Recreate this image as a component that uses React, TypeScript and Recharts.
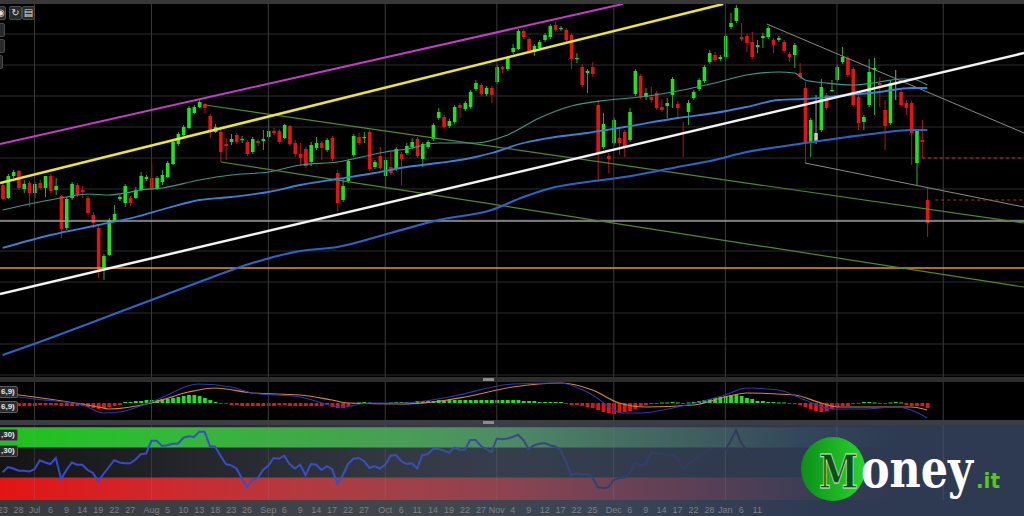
import React from 'react'
import {
  ComposedChart, LineChart, Bar, Line, XAxis, YAxis, CartesianGrid, ReferenceLine, ReferenceArea,
} from 'recharts'

const X_DOMAIN: [number, number] = [-0.5, 192.2]

// candles (chart units, higher = up)
const opens = [
  195, 182, 204, 209, 191, 197, 187, 197, 192, 204,
  190, 184, 152, 182, 195, 190, 182, 165, 152, 112,
  125, 159, 181, 177, 182, 182, 190, 201, 202, 191,
  198, 203, 216, 236, 245, 252, 267, 273, 276, 264,
  248, 248, 236, 238, 245, 240, 238, 228, 239, 239,
  243, 249, 249, 242, 254, 237, 226, 231, 218, 232,
  237, 230, 242, 207, 180, 199, 225, 243, 242, 248,
  213, 224, 204, 213, 211, 226, 227, 233, 241, 221,
  233, 241, 262, 263, 254, 258, 275, 271, 273, 291,
  295, 286, 292, 298, 313, 311, 328, 331, 349, 341,
  328, 332, 340, 343, 355, 351, 350, 345, 321, 313,
  307, 313, 275, 233, 224, 237, 242, 248, 240, 286,
  304, 283, 283, 287, 273, 274, 285, 276, 248, 268,
  282, 291, 299, 318, 325, 321, 323, 353, 359, 343,
  344, 338, 333, 342, 343, 340, 340, 338, 326, 325,
  307, 292, 238, 238, 250, 285, 289, 300, 318, 322,
  311, 283, 258, 275, 310, 297, 270, 257, 297, 288,
  277, 277, 217, 240, 180,
]
const highs = [
  197, 206, 210, 210, 200, 199, 198, 200, 204, 206,
  202, 185, 183, 198, 197, 194, 184, 168, 154, 126,
  162, 175, 185, 196, 184, 193, 208, 205, 217, 204,
  210, 219, 240, 248, 255, 274, 275, 281, 277, 266,
  256, 250, 242, 246, 247, 244, 240, 243, 241, 250,
  262, 252, 251, 256, 255, 240, 237, 233, 238, 243,
  239, 242, 244, 210, 202, 221, 246, 247, 248, 250,
  220, 233, 222, 228, 233, 228, 237, 242, 243, 238,
  240, 257, 272, 265, 261, 275, 277, 279, 290, 300,
  297, 294, 294, 315, 314, 324, 336, 351, 351, 343,
  336, 340, 347, 356, 358, 354, 352, 347, 327, 316,
  311, 318, 280, 267, 227, 262, 252, 250, 272, 311,
  306, 292, 293, 289, 281, 282, 303, 279, 258, 280,
  290, 302, 315, 330, 328, 325, 346, 367, 375, 357,
  346, 348, 340, 347, 354, 342, 344, 340, 328, 337,
  317, 298, 262, 285, 301, 287, 300, 315, 333, 324,
  313, 285, 265, 321, 322, 303, 280, 300, 310, 290,
  280, 279, 251, 260, 193,
]
const lows = [
  180, 181, 202, 190, 187, 173, 182, 190, 183, 187,
  185, 142, 150, 180, 183, 182, 165, 152, 102, 100,
  124, 158, 179, 173, 174, 181, 189, 199, 190, 190,
  195, 202, 215, 234, 244, 251, 266, 272, 267, 242,
  247, 218, 220, 235, 236, 237, 224, 226, 234, 230,
  241, 245, 236, 241, 234, 223, 214, 212, 214, 230,
  220, 228, 219, 168, 178, 197, 223, 235, 237, 209,
  211, 210, 193, 205, 209, 195, 225, 231, 222, 213,
  231, 239, 260, 251, 252, 256, 262, 269, 271, 289,
  284, 284, 277, 296, 307, 309, 326, 330, 341, 327,
  324, 330, 338, 341, 348, 349, 337, 311, 317, 293,
  287, 303, 198, 231, 207, 235, 225, 223, 238, 284,
  281, 280, 277, 270, 268, 262, 272, 262, 223, 255,
  280, 289, 297, 316, 318, 319, 321, 351, 357, 339,
  328, 321, 327, 332, 341, 327, 338, 327, 318, 312,
  301, 217, 223, 236, 248, 270, 288, 298, 316, 303,
  273, 250, 250, 273, 265, 273, 230, 255, 280, 273,
  265, 215, 195, 222, 143,
]
const closes = [
  181, 204, 208, 192, 196, 187, 196, 192, 204, 189,
  194, 151, 181, 196, 185, 188, 167, 157, 108, 124,
  160, 166, 183, 194, 177, 190, 204, 203, 191, 202,
  205, 217, 238, 246, 253, 272, 273, 278, 272, 250,
  253, 228, 234, 241, 238, 241, 226, 241, 237, 241,
  249, 247, 238, 255, 236, 226, 222, 214, 235, 237,
  232, 240, 221, 177, 194, 219, 244, 237, 243, 211,
  218, 212, 220, 207, 231, 221, 234, 238, 224, 236,
  238, 255, 268, 253, 259, 273, 272, 277, 288, 297,
  286, 292, 285, 313, 311, 322, 332, 349, 343, 329,
  334, 338, 345, 354, 350, 352, 340, 321, 322, 295,
  309, 306, 227, 256, 221, 260, 237, 233, 268, 309,
  283, 287, 280, 272, 270, 277, 301, 272, 247, 277,
  288, 300, 313, 327, 320, 323, 344, 357, 372, 341,
  337, 323, 335, 344, 352, 335, 342, 329, 323, 335,
  303, 237, 260, 247, 293, 272, 290, 313, 323, 305,
  275, 257, 263, 308, 312, 295, 254, 297, 296, 275,
  272, 247, 249, 238, 157,
]
const neutralIdx = [153, 168]

// moving averages as [candle index, value]
const ma20 = [
  [0, 170], [6, 177], [12, 183], [16, 186], [20, 185], [23, 187], [26, 190], [30, 192], [37, 200],
  [43, 205], [50, 208], [56, 215], [63, 218], [72, 228], [76, 231], [82, 237], [89, 237], [95, 245],
  [101, 262], [107, 274], [114, 280], [120, 283], [127, 289], [134, 297], [140, 305], [146, 308],
  [149, 307], [151, 300], [155, 297], [160, 295], [165, 298], [169, 301], [171, 301], [174, 295],
]
const ma50 = [
  [0, 132], [9, 145], [18, 155], [25, 163], [31, 172], [37, 180], [43, 183], [50, 188], [56, 195],
  [63, 201], [70, 207], [76, 213], [82, 217], [89, 223], [92, 227], [98, 237], [104, 243], [110, 247],
  [117, 253], [127, 262], [134, 267], [140, 273], [146, 280], [151, 281], [159, 285], [165, 288],
  [171, 292], [174, 292],
]
const ma200 = [
  [0, 25], [9, 42], [18, 60], [28, 80], [37, 98], [47, 117], [56, 129], [63, 133], [73, 147],
  [82, 160], [92, 170], [98, 183], [104, 193], [110, 198], [117, 203], [127, 213], [134, 220],
  [140, 228], [146, 233], [151, 237], [159, 243], [165, 247], [171, 250], [174, 250],
]

// hand-drawn lines, [index, value] end points
const magentaLine = [[-0.5, 236], [116.7, 376]]
const yellowLine = [[-0.5, 197], [135.6, 376]]
const whiteLine = [[-0.5, 86], [192.2, 327]]
const greenUpper = [[38.1, 275], [192.2, 157]]
const greenLower = [[41.1, 218], [192.2, 93]]
const grayUpper = [[143.8, 356], [192.2, 247]]
const grayLower = [[151, 217], [192.2, 173]]
const stopHigh = [[173, 222], [192.2, 222]]
const stopLow = [[175.5, 180], [192.2, 180]]
const supportGray = 159
const supportOrange = 112

const monthIdx = [6, 28, 50, 72, 93, 115, 136, 157, 177]
const priceGrid = [377, 361, 346, 330, 315, 299, 284, 268, 253, 237, 222, 206, 191, 175, 160, 144, 129, 113, 98, 82, 67, 51, 36, 20, 5]

// MACD panel
const macdHist = [
  -3, -3, -3, -3, -3, -3, -3, -2, -2, -2,
  -2, -3, -3, -3, -3, -3, -4, -5, -6, -5,
  -4, -3, -2, 1, 1, 2, 2, 3, 3, 3,
  4, 4, 5, 6, 7, 8, 8, 7, 5, 3,
  1, -1, -1, -2, -2, -3, -3, -3, -3, -3,
  -3, -3, -2, -2, -3, -3, -3, -3, -3, -3,
  -3, -2, -4, -5, -5, -3, -1, 0, 1, 0,
  -1, -1, -1, 0, 1, 1, 1, 1, 2, 2,
  2, 2, 3, 3, 3, 3, 3, 3, 3, 3,
  3, 3, 3, 3, 3, 3, 3, 3, 2, 2,
  2, 1, 1, 1, 1, 1, -1, -2, -2, -3,
  -4, -5, -7, -9, -10, -11, -10, -9, -8, -6,
  -3, -2, -1, -1, 0, 0, 1, 0, -1, 0,
  1, 2, 3, 4, 5, 6, 7, 8, 8, 7,
  5, 4, 2, 2, 1, 1, 0, 0, -1, -1,
  -2, -4, -6, -8, -9, -8, -6, -4, -3, -3,
  -1, -1, 1, 1, 0, -1, -1, 0, 1, 0,
  -2, -3, -3, -3, -5,
]
const macdPts = [
  [0, 8], [6, 4], [15, -2], [19, -10], [22, -9], [28, 1], [37, 19], [43, 16], [47, 10], [56, 6],
  [64, -4], [69, 0], [75, 0], [84, 6], [96, 19], [105, 20], [110, 11], [117, -10], [120, -10],
  [127, -4], [136, 8], [140, 15], [146, 13], [151, 3], [156, -6], [162, -6], [168, -4], [171, -7], [174, -15],
]
const signalPts = [
  [0, 10], [6, 6], [18, -4], [20, -6], [28, 0], [35, 11], [40, 15], [47, 10], [56, 8], [62, 3],
  [65, 0], [75, -1], [81, 1], [87, 6], [96, 16], [105, 20], [111, 13], [116, 0], [121, -4],
  [130, -2], [136, 6], [140, 10], [149, 8], [154, 0], [157, -4], [165, -4], [171, -4], [174, -7],
]

// RSI panel
const rsi = [
  37, 44, 42, 39, 39, 38, 41, 53, 50, 48,
  56, 28, 40, 50, 47, 47, 40, 36, 25, 35,
  44, 53, 50, 49, 49, 54, 61, 62, 79, 79,
  72, 73, 75, 75, 83, 85, 84, 91, 91, 72,
  71, 59, 48, 46, 42, 29, 17, 27, 29, 40,
  46, 56, 55, 59, 48, 42, 47, 33, 48, 47,
  40, 45, 41, 22, 33, 48, 55, 56, 52, 43,
  45, 42, 47, 59, 60, 52, 48, 49, 42, 60,
  61, 68, 68, 66, 63, 70, 67, 67, 80, 80,
  72, 68, 64, 82, 81, 82, 84, 87, 80, 68,
  73, 75, 76, 73, 71, 67, 51, 33, 36, 34,
  35, 30, 17, 16, 17, 27, 29, 30, 36, 50,
  47, 47, 64, 62, 62, 60, 61, 56, 41, 48,
  53, 59, 62, 67, 67, 68, 67, 79, 93, 76,
  67, 59, 59, 59, 58, 54,
]

const dateIdx = [0, 3, 6, 9, 12, 15, 18, 21, 24, 28, 31, 34, 37, 40, 43, 46, 50, 53, 56, 59, 62, 65, 68, 72, 75, 78, 81, 84, 87, 90, 93, 96, 99, 102, 105, 108, 111, 115, 118, 121, 124, 127, 130, 133, 136, 139, 142]
const dateText = ['23', '28', 'Jul', '6', '9', '14', '19', '22', '27', 'Aug', '5', '10', '13', '18', '23', '26', 'Sep', '6', '9', '14', '17', '22', '27', 'Oct', '6', '11', '14', '19', '22', '27', 'Nov', '4', '9', '12', '17', '22', '25', 'Dec', '6', '9', '14', '17', '22', '28', 'Jan', '6', '11']

const toMap = (pts: number[][]) => new Map(pts.map(([i, v]) => [i, v] as [number, number]))
const m20 = toMap(ma20)
const m50 = toMap(ma50)
const m200 = toMap(ma200)
const mMacd = toMap(macdPts)
const mSig = toMap(signalPts)

const priceRows = opens.map((open, i) => ({
  i,
  open,
  high: highs[i],
  low: lows[i],
  close: closes[i],
  range: [lows[i], highs[i]],
  neutral: neutralIdx.includes(i),
  ma20: m20.get(i) ?? null,
  ma50: m50.get(i) ?? null,
  ma200: m200.get(i) ?? null,
}))

const macdRows = macdHist.map((hist, i) => ({
  i, hist, macd: mMacd.get(i) ?? null, signal: mSig.get(i) ?? null,
}))

const rsiRows = rsi.map((v, i) => ({ i, rsi: v }))

const seg = (pts: number[][]) => pts.map(([x, y]) => ({ x, y }))

const Candle = (props: any) => {
  const { x, y, width, height, payload } = props
  if (x == null || y == null) return null
  const { open, close, high, low, neutral } = payload
  const top = Math.min(y, y + height)
  const h = Math.abs(height)
  const ppu = high > low ? h / (high - low) : 0
  const cx = x + width / 2
  const yO = top + (high - open) * ppu
  const yC = top + (high - close) * ppu
  const body = neutral ? '#c9c9c9' : close >= open ? '#1fe21f' : '#e51414'
  const wick = neutral ? '#9a9a9a' : close >= open ? '#2faa2f' : '#b81515'
  const bTop = Math.min(yO, yC)
  const bH = Math.max(1.2, Math.abs(yC - yO))
  return (
    <g>
      <line x1={cx} x2={cx} y1={top} y2={top + h} stroke={wick} strokeWidth={1} />
      <rect x={cx - 1.8} y={bTop} width={3.6} height={bH} fill={body} />
    </g>
  )
}

const HistBar = (props: any) => {
  const { x, y, width, height, payload } = props
  if (x == null || y == null) return null
  const top = Math.min(y, y + height)
  const h = Math.max(1, Math.abs(height))
  const fill = payload.hist >= 0 ? '#22e022' : '#e51414'
  return <rect x={x + width / 2 - 1.9} y={payload.hist === 0 ? top - 0.5 : top} width={3.8} height={h} fill={fill} />
}

const Tag = ({ top, text }: { top: number; text: string }) => (
  <div style={{
    position: 'absolute', left: -2, top, height: 10, padding: '0 2px', background: '#2b2b2b',
    border: '1px solid #5a5a5a', borderRadius: 2, color: '#e8e8e8', fontSize: 8, lineHeight: '10px',
    fontWeight: 700, fontFamily: '"Liberation Sans", Arial, sans-serif',
  }}>{text}</div>
)

const Icon = ({ left, top, w, text }: { left: number; top: number; w: number; text?: string }) => (
  <div style={{
    position: 'absolute', left, top, width: w, height: 12, background: '#2a2a2a', border: '1px solid #4a4a4a',
    borderRadius: 2, color: '#ddd', fontSize: 10, lineHeight: '12px', textAlign: 'center',
    fontFamily: '"DejaVu Sans", sans-serif',
  }}>{text}</div>
)

export default function App() {
  return (
    <div style={{
      position: 'absolute', left: 0, top: 0, width: 1024, height: 516, background: '#000', overflow: 'hidden',
      fontFamily: '"Liberation Sans", Arial, sans-serif',
    }}>
      {/* price panel */}
      <div style={{ position: 'absolute', left: 0, top: 0 }}>
        <ComposedChart width={1024} height={378} data={priceRows} margin={{ top: 0, right: 0, bottom: 0, left: 0 }}>
          <XAxis dataKey="i" type="number" domain={X_DOMAIN} hide allowDataOverflow />
          <YAxis type="number" domain={[2, 380]} ticks={priceGrid} hide allowDataOverflow />
          <CartesianGrid vertical={false} stroke="#2c2c2c" />
          {monthIdx.map(m => <ReferenceLine key={m} x={m} stroke="#3b3b3b" />)}
          <ReferenceLine y={supportGray} stroke="#9c9c9c" strokeWidth={1.5} />
          <ReferenceLine y={supportOrange} stroke="#e8923c" strokeWidth={1.5} />
          <ReferenceLine segment={seg(greenUpper)} stroke="#4f8a2c" strokeWidth={1.2} ifOverflow="visible" />
          <ReferenceLine segment={seg(greenLower)} stroke="#4f8a2c" strokeWidth={1.2} ifOverflow="visible" />
          <ReferenceLine segment={seg(grayUpper)} stroke="#8a8a8a" strokeWidth={1} ifOverflow="visible" />
          <ReferenceLine segment={seg(grayLower)} stroke="#8a8a8a" strokeWidth={1} ifOverflow="visible" />
          <ReferenceLine segment={seg(stopHigh)} stroke="#c42020" strokeDasharray="3 3" ifOverflow="visible" />
          <ReferenceLine segment={seg(stopLow)} stroke="#c42020" strokeDasharray="3 3" ifOverflow="visible" />
          <Line dataKey="ma200" type="monotone" stroke="#2a64c6" strokeWidth={2.2} dot={false} connectNulls isAnimationActive={false} />
          <Line dataKey="ma50" type="monotone" stroke="#3b80d8" strokeWidth={1.8} dot={false} connectNulls isAnimationActive={false} />
          <Line dataKey="ma20" type="monotone" stroke="#3a9a8c" strokeWidth={1.2} dot={false} connectNulls isAnimationActive={false} />
          <ReferenceLine segment={seg(magentaLine)} stroke="#c43cc8" strokeWidth={2} ifOverflow="visible" />
          <ReferenceLine segment={seg(yellowLine)} stroke="#ece43a" strokeWidth={2.5} ifOverflow="visible" />
          <ReferenceLine segment={seg(whiteLine)} stroke="#f2f2f2" strokeWidth={2.5} ifOverflow="visible" />
          <Bar dataKey="range" barSize={4} shape={Candle} isAnimationActive={false} />
        </ComposedChart>
      </div>

      {/* toolbar bits */}
      <div style={{ position: 'absolute', left: 0, top: 0, width: 1024, height: 4, background: '#383838' }} />
      <Icon left={-5} top={6} w={9} text="◉" />
      <Icon left={9} top={6} w={11} text="↻" />
      <Icon left={22} top={6} w={11} text="▤" />
      <Icon left={-4} top={23} w={7} />
      <Icon left={-4} top={39} w={7} />
      <Icon left={-6} top={55} w={7} />

      {/* separator */}
      <div style={{ position: 'absolute', left: 0, top: 377, width: 1024, height: 5, background: '#2e2e2e' }} />
      <div style={{ position: 'absolute', left: 483, top: 378, width: 11, height: 3, background: '#8c8c8c' }} />

      {/* MACD panel */}
      <div style={{ position: 'absolute', left: 0, top: 382 }}>
        <ComposedChart width={1024} height={38} data={macdRows} margin={{ top: 0, right: 0, bottom: 0, left: 0 }}>
          <XAxis dataKey="i" type="number" domain={X_DOMAIN} hide allowDataOverflow />
          <YAxis type="number" domain={[-17, 21]} hide allowDataOverflow />
          {monthIdx.map(m => <ReferenceLine key={m} x={m} stroke="#3b3b3b" />)}
          <Bar dataKey="hist" barSize={4} shape={HistBar} isAnimationActive={false} />
          <Line dataKey="signal" type="monotone" stroke="#d9843e" strokeWidth={1.1} dot={false} connectNulls isAnimationActive={false} />
          <Line dataKey="macd" type="monotone" stroke="#2a37b8" strokeWidth={1.1} dot={false} connectNulls isAnimationActive={false} />
        </ComposedChart>
      </div>
      <Tag top={386} text="6,9)" />
      <Tag top={401} text="6,9)" />

      {/* RSI panel backgrounds */}
      <div style={{
        position: 'absolute', left: 0, top: 420, width: 1024, height: 96,
        background: 'linear-gradient(to right, #141414 0%, #24272c 20%, #343a44 40%, #363e4c 50%, #303a4e 70%, #2d3a52 85%, #2d3a52 100%)',
      }} />
      <div style={{
        position: 'absolute', left: 0, top: 500, width: 1024, height: 16,
        background: 'linear-gradient(to right, #38393c 0%, #42464d 40%, #3a4455 60%, #2d3a52 80%)',
      }} />
      <div style={{ position: 'absolute', left: 0, top: 420, width: 1024, height: 5, background: '#3a3d42' }} />
      <div style={{ position: 'absolute', left: 483, top: 421, width: 11, height: 3, background: '#8c8c8c' }} />

      <div style={{ position: 'absolute', left: 0, top: 425 }}>
        <LineChart width={1024} height={91} data={rsiRows} margin={{ top: 0, right: 0, bottom: 0, left: 0 }}>
          <defs>
            <linearGradient id="greenBand" x1="0" y1="0" x2="1024" y2="0" gradientUnits="userSpaceOnUse">
              <stop offset="0" stopColor="#1ec21e" />
              <stop offset="0.17" stopColor="#34b83a" />
              <stop offset="0.3" stopColor="#40a848" />
              <stop offset="0.4" stopColor="#4a9c58" />
              <stop offset="0.5" stopColor="#4d8a64" />
              <stop offset="0.6" stopColor="#466f62" />
              <stop offset="0.7" stopColor="#3d5a5e" />
              <stop offset="0.78" stopColor="#33475a" />
              <stop offset="0.88" stopColor="#2d3a52" />
            </linearGradient>
            <linearGradient id="redBand" x1="0" y1="0" x2="1024" y2="0" gradientUnits="userSpaceOnUse">
              <stop offset="0" stopColor="#e41414" />
              <stop offset="0.17" stopColor="#cc2a30" />
              <stop offset="0.3" stopColor="#b23a40" />
              <stop offset="0.4" stopColor="#a0404a" />
              <stop offset="0.5" stopColor="#8c4350" />
              <stop offset="0.6" stopColor="#6e4255" />
              <stop offset="0.7" stopColor="#553f56" />
              <stop offset="0.78" stopColor="#3e3d55" />
              <stop offset="0.88" stopColor="#2d3a52" />
            </linearGradient>
            <linearGradient id="rsiFade" x1="0" y1="0" x2="1024" y2="0" gradientUnits="userSpaceOnUse">
              <stop offset="0" stopColor="#3448d6" />
              <stop offset="0.38" stopColor="#3a4fc0" />
              <stop offset="0.48" stopColor="#3a4a90" />
              <stop offset="0.58" stopColor="#34416c" />
              <stop offset="0.7" stopColor="#2f3b58" />
              <stop offset="1" stopColor="#2d3a52" />
            </linearGradient>
            <linearGradient id="lblFade" x1="0" y1="0" x2="1024" y2="0" gradientUnits="userSpaceOnUse">
              <stop offset="0" stopColor="#9a9a9a" />
              <stop offset="0.4" stopColor="#8a8e96" />
              <stop offset="0.58" stopColor="#5a6274" />
              <stop offset="0.7" stopColor="#36425a" />
              <stop offset="0.76" stopColor="#2e3b53" />
            </linearGradient>
          </defs>
          <XAxis
            dataKey="i" type="number" domain={X_DOMAIN} allowDataOverflow height={16}
            ticks={dateIdx} interval={0} tickLine={false} axisLine={false} tickMargin={1}
            tickFormatter={(v: number) => dateText[dateIdx.indexOf(v)] ?? ''}
            tick={{ fill: 'url(#lblFade)', fontSize: 9 }}
          />
          <YAxis type="number" domain={[0, 100]} hide allowDataOverflow />
          <ReferenceArea y1={70} y2={97} fill="url(#greenBand)" fillOpacity={1} ifOverflow="visible" />
          <ReferenceArea y1={0} y2={30} fill="url(#redBand)" fillOpacity={1} ifOverflow="visible" />
          {monthIdx.map(m => <ReferenceLine key={m} x={m} stroke="rgba(140,140,140,0.22)" />)}
          <Line dataKey="rsi" type="linear" stroke="url(#rsiFade)" strokeWidth={2} dot={false} isAnimationActive={false} />
        </LineChart>
      </div>
      <Tag top={429} text=",30)" />
      <Tag top={445} text=",30)" />

      {/* Money.it logo */}
      <svg width={1024} height={516} style={{ position: 'absolute', left: 0, top: 0, pointerEvents: 'none' }}>
        <defs>
          <linearGradient id="logoDisc" x1="0" y1="0" x2="1" y2="0">
            <stop offset="0" stopColor="#0b8f18" />
            <stop offset="1" stopColor="#2bd42b" />
          </linearGradient>
        </defs>
        <circle cx={833} cy={469} r={32} fill="url(#logoDisc)" />
        <text x={819} y={488} fontFamily='"DejaVu Serif", serif' fontWeight={700} fontSize={46}
          textLength={39} lengthAdjust="spacingAndGlyphs" fill="#0c4f14" stroke="#d8e8d8" strokeWidth={0.8}>M</text>
        <text x={861} y={487} fontFamily='"DejaVu Serif", serif' fontWeight={700} fontSize={52}
          textLength={112} lengthAdjust="spacingAndGlyphs" fill="#ffffff">oney</text>
        <text x={976} y={488} fontFamily='"DejaVu Sans", sans-serif' fontWeight={700} fontSize={21}
          textLength={24} lengthAdjust="spacingAndGlyphs" fill="#5cc41e">.it</text>
      </svg>
    </div>
  )
}
